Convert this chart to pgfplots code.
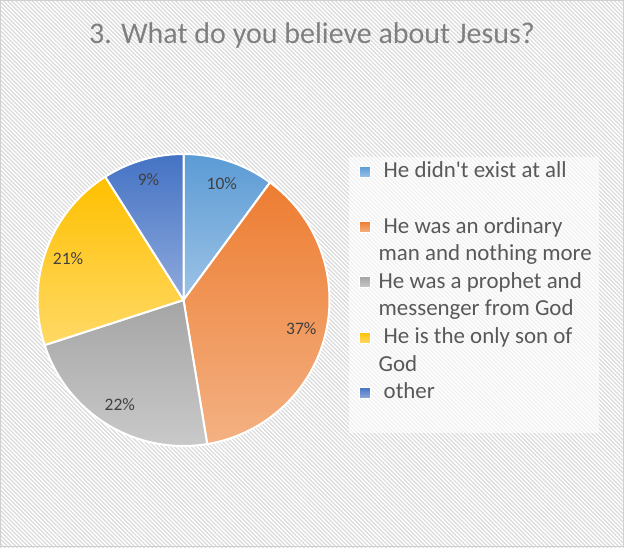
\documentclass[border=0pt]{standalone}
\usepackage{pgfplots}
\pgfplotsset{compat=1.18}
\usepackage{pgfplotstable}
\usepackage{fontspec}
\setmainfont{Carlito}[Ligatures=TeXOff]
\usetikzlibrary{patterns.meta}

\definecolor{cBlueT}{HTML}{5B9BD5}\definecolor{cBlueB}{HTML}{9DC3E6}
\definecolor{cOrT}{HTML}{ED7D31}\definecolor{cOrB}{HTML}{F4B183}
\definecolor{cGrT}{HTML}{A5A5A5}\definecolor{cGrB}{HTML}{C9C9C9}
\definecolor{cYeT}{HTML}{FFC000}\definecolor{cYeB}{HTML}{FFD966}
\definecolor{cDbT}{HTML}{4472C4}\definecolor{cDbB}{HTML}{8FAADC}
\definecolor{titlegray}{HTML}{7F7F7F}
\definecolor{legendgray}{HTML}{595959}
\definecolor{labelgray}{HTML}{404040}
\definecolor{hatch}{HTML}{DADADA}
\definecolor{frame}{HTML}{D0D0D0}

\pgfplotstableread{
share label
10.1 10
37.3 37
22.6 22
21.0 21
9.0 9
}\piedata

\begin{document}
\begin{tikzpicture}
\pgfplotstablegetelem{0}{share}\of\piedata \let\sA\pgfplotsretval
\pgfplotstablegetelem{1}{share}\of\piedata \let\sB\pgfplotsretval
\pgfplotstablegetelem{2}{share}\of\piedata \let\sC\pgfplotsretval
\pgfplotstablegetelem{3}{share}\of\piedata \let\sD\pgfplotsretval
\pgfplotstablegetelem{4}{share}\of\piedata \let\sE\pgfplotsretval
\pgfmathsetmacro\aA{90-3.6*\sA}
\pgfmathsetmacro\aB{\aA-3.6*\sB}
\pgfmathsetmacro\aC{\aB-3.6*\sC}
\pgfmathsetmacro\aD{\aC-3.6*\sD}
\pgfmathsetmacro\aE{\aD-3.6*\sE}
\pgfmathsetmacro\mA{(90+\aA)/2}
\pgfmathsetmacro\mB{(\aA+\aB)/2}
\pgfmathsetmacro\mC{(\aB+\aC)/2}
\pgfmathsetmacro\mD{(\aC+\aD)/2}
\pgfmathsetmacro\mE{(\aD+\aE)/2}

\useasboundingbox (0pt,0pt) rectangle (624pt,-547pt);
\fill[white] (0pt,0pt) rectangle (624pt,-547pt);
\fill[pattern={Lines[angle=-45, distance=2.9pt, line width=1.2pt]}, pattern color=hatch] (0pt,0pt) rectangle (624pt,-547pt);
\draw[frame, line width=1pt] (0.5pt,-0.5pt) rectangle (623.5pt,-546.5pt);

% legend box
\fill[white, opacity=0.6] (349pt,-157pt) rectangle (599pt,-433pt);

\node[anchor=base, font=\fontsize{30}{36}\selectfont, text=titlegray] at (312pt,-43.3pt) {3. What do you believe about Jesus?};

\begin{axis}[
  at={(183.5pt,-300pt)}, anchor=center,
  scale only axis, width=292pt, height=292pt,
  xmin=-1, xmax=1, ymin=-1, ymax=1,
  hide axis, clip=false,
  legend cell align=left,
  legend style={
    at={(1.101,0.977)}, anchor=north west,
    draw=none, fill=none,
    inner xsep=0pt, inner ysep=0pt,
    column sep=7.7pt, row sep=5.6pt,
    font=\fontsize{22.9}{27}\selectfont,
    text=legendgray,
    nodes={inner sep=0pt, text height=17pt, text depth=5pt},
  },
]
\addplot[forget plot, draw=white, line width=2pt, line join=round, top color=cBlueT, bottom color=cBlueB, domain=\aA:90, samples=60] ({cos(x)},{sin(x)}) -- (0,0) -- cycle;
\addplot[forget plot, draw=white, line width=2pt, line join=round, top color=cOrT, bottom color=cOrB, domain=\aB:\aA, samples=120] ({cos(x)},{sin(x)}) -- (0,0) -- cycle;
\addplot[forget plot, draw=white, line width=2pt, line join=round, top color=cGrT, bottom color=cGrB, domain=\aC:\aB, samples=80] ({cos(x)},{sin(x)}) -- (0,0) -- cycle;
\addplot[forget plot, draw=white, line width=2pt, line join=round, top color=cYeT, bottom color=cYeB, domain=\aD:\aC, samples=80] ({cos(x)},{sin(x)}) -- (0,0) -- cycle;
\addplot[forget plot, draw=white, line width=2pt, line join=round, top color=cDbT, bottom color=cDbB, domain=\aE:\aD, samples=60] ({cos(x)},{sin(x)}) -- (0,0) -- cycle;

\begin{scope}[every node/.style={font=\fontsize{17.5}{21}\selectfont, text=labelgray}]
\node at (axis cs:{0.84*cos(\mA)},{0.84*sin(\mA)}) {10\%};
\node at (axis cs:{0.83*cos(\mB)},{0.83*sin(\mB)}) {37\%};
\node at (axis cs:{0.84*cos(\mC)},{0.84*sin(\mC)}) {22\%};
\node at (axis cs:{0.84*cos(\mD)},{0.84*sin(\mD)}) {21\%};
\node at (axis cs:{0.86*cos(\mE)},{0.86*sin(\mE)}) {9\%};
\end{scope}

\addlegendimage{legend image code/.code={\draw[white, line width=0.8pt, top color=cBlueT, bottom color=cBlueB] (0pt,-5.5pt) rectangle (11pt,5.5pt);}}
\addlegendentry{\hspace{5pt}He didn't exist at all}
\addlegendimage{empty legend}
\addlegendentry{}
\addlegendimage{legend image code/.code={\draw[white, line width=0.8pt, top color=cOrT, bottom color=cOrB] (0pt,-5.5pt) rectangle (11pt,5.5pt);}}
\addlegendentry{\hspace{5pt}He was an ordinary}
\addlegendimage{empty legend}
\addlegendentry{man and nothing more}
\addlegendimage{legend image code/.code={\draw[white, line width=0.8pt, top color=cGrT, bottom color=cGrB] (0pt,-5.5pt) rectangle (11pt,5.5pt);}}
\addlegendentry{He was a prophet and}
\addlegendimage{empty legend}
\addlegendentry{messenger from God}
\addlegendimage{legend image code/.code={\draw[white, line width=0.8pt, top color=cYeT, bottom color=cYeB] (0pt,-5.5pt) rectangle (11pt,5.5pt);}}
\addlegendentry{\hspace{5pt}He is the only son of}
\addlegendimage{empty legend}
\addlegendentry{God}
\addlegendimage{legend image code/.code={\draw[white, line width=0.8pt, top color=cDbT, bottom color=cDbB] (0pt,-5.5pt) rectangle (11pt,5.5pt);}}
\addlegendentry{\hspace{5pt}other}
\end{axis}
\end{tikzpicture}
\end{document}
